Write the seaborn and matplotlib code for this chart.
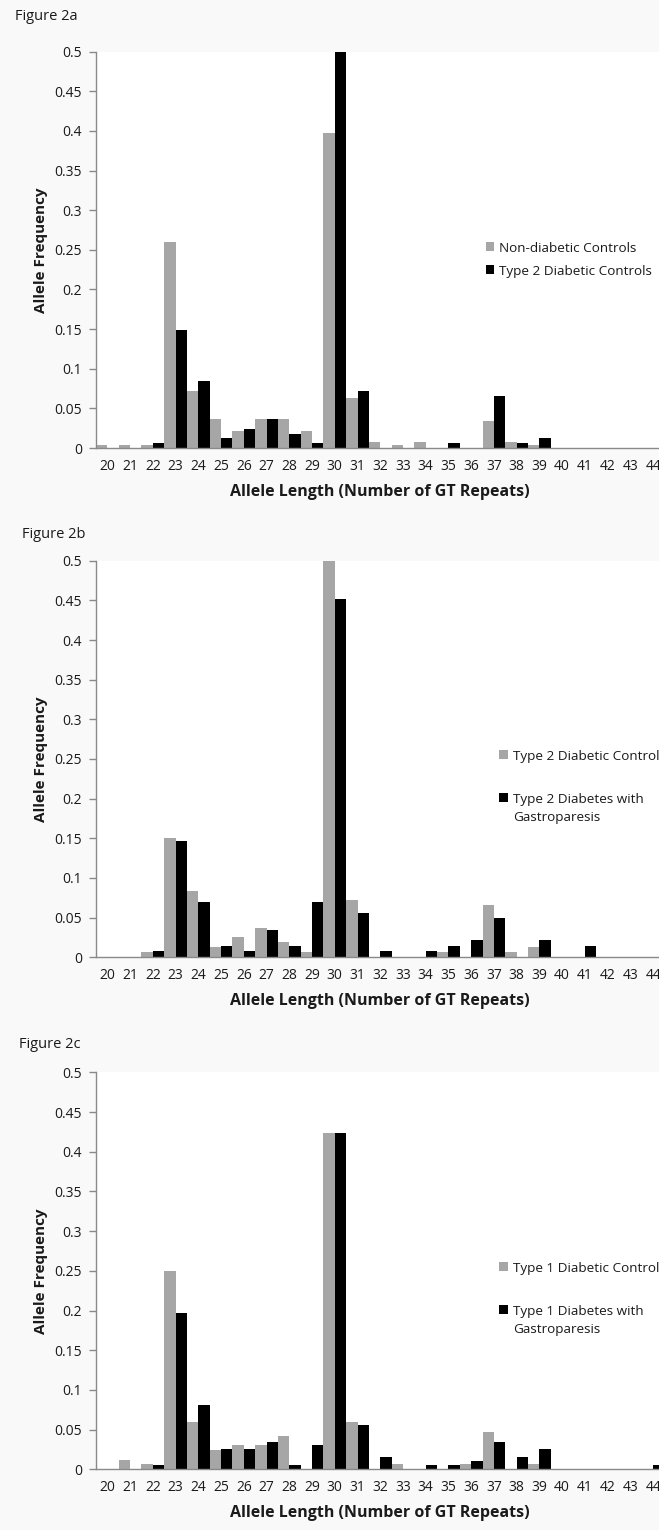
import numpy as np
import pandas as pd
import matplotlib
matplotlib.use("Agg")
import matplotlib.pyplot as plt
from matplotlib.patches import Patch
import seaborn as sns

# ---------------- data ----------------
alleles = [str(a) for a in range(20, 45)]

a_labels = ["Non-diabetic Controls", "Type 2 Diabetic Controls"]
a_nondiabetic = [0.004, 0.004, 0.004, 0.260, 0.0715, 0.0366, 0.021, 0.0366, 0.0366, 0.021,
                 0.398, 0.0626, 0.007, 0.004, 0.007, 0.0, 0.0, 0.0336, 0.007, 0.004,
                 0.0, 0.0, 0.0, 0.0, 0.0]
a_type2_ctrl = [0.0, 0.0, 0.006, 0.149, 0.084, 0.0126, 0.024, 0.0366, 0.018, 0.006,
                0.500, 0.072, 0.0, 0.0, 0.0, 0.006, 0.0, 0.066, 0.006, 0.0126,
                0.0, 0.0, 0.0, 0.0, 0.0]

b_labels = ["Type 2 Diabetic Control", "Type 2 Diabetes with\nGastroparesis"]
b_type2_ctrl = [0.0, 0.0, 0.0067, 0.150, 0.084, 0.013, 0.025, 0.037, 0.019, 0.0067,
                0.500, 0.072, 0.0, 0.0, 0.0, 0.0067, 0.0, 0.066, 0.0067, 0.013,
                0.0, 0.0, 0.0, 0.0, 0.0]
b_type2_gp = [0.0, 0.0, 0.0076, 0.146, 0.070, 0.014, 0.0076, 0.035, 0.014, 0.070,
              0.452, 0.0555, 0.0076, 0.0, 0.0076, 0.014, 0.0214, 0.049, 0.0, 0.0214,
              0.0, 0.014, 0.0, 0.0, 0.0]

c_labels = ["Type 1 Diabetic Control", "Type 1 Diabetes with\nGastroparesis"]
c_type1_ctrl = [0.0, 0.0118, 0.0067, 0.250, 0.0596, 0.024, 0.030, 0.030, 0.042, 0.0,
                0.423, 0.0596, 0.0, 0.0067, 0.0, 0.0, 0.0067, 0.0474, 0.0, 0.0067,
                0.0, 0.0, 0.0, 0.0, 0.0]
c_type1_gp = [0.0, 0.0, 0.005, 0.197, 0.081, 0.025, 0.025, 0.035, 0.005, 0.030,
              0.424, 0.0554, 0.015, 0.0, 0.005, 0.005, 0.010, 0.035, 0.015, 0.025,
              0.0, 0.0, 0.0, 0.0, 0.005]

titles = ["Figure 2a", "Figure 2b", "Figure 2c"]
y_ticks = [0, 0.05, 0.1, 0.15, 0.2, 0.25, 0.3, 0.35, 0.4, 0.45, 0.5]
y_label = "Allele Frequency"
x_label = "Allele Length (Number of GT Repeats)"

# ---------------- style ----------------
sns.set_theme(style="white")
plt.rcParams['font.family'] = ['Open Sans', 'DejaVu Sans']

W, H = 659, 1530
BG = '#f9f9f9'
GRAY = '#a6a6a6'
BLACK = '#000000'
AXC = '#898989'
TXT = '#1a1a1a'
LEG_FS = 9.7

fig = plt.figure(figsize=(W / 100, H / 100), dpi=100, facecolor=BG)

def px_rect(left, top, right, bottom):
    return [left / W, 1 - bottom / H, (right - left) / W, (bottom - top) / H]

panels = [
    dict(title=titles[0], tpos=(15, 17), rect=(96, 51.7, 664.5, 448.0),
         labels=a_labels, s1=a_nondiabetic, s2=a_type2_ctrl, leg=(485.5, 242), lspace=0.75),
    dict(title=titles[1], tpos=(22, 535), rect=(96, 560.7, 664.5, 957.3),
         labels=b_labels, s1=b_type2_ctrl, s2=b_type2_gp, leg=(499, 750), lspace=2.25),
    dict(title=titles[2], tpos=(19, 1044), rect=(96, 1072.3, 664.5, 1469.3),
         labels=c_labels, s1=c_type1_ctrl, s2=c_type1_gp, leg=(499, 1262), lspace=2.25),
]

for p in panels:
    ax = fig.add_axes(px_rect(*p['rect']))
    ax.set_facecolor('white')
    df = pd.DataFrame({
        'allele': alleles * 2,
        'freq': list(p['s1']) + list(p['s2']),
        'group': [p['labels'][0]] * len(alleles) + [p['labels'][1]] * len(alleles),
    })
    sns.barplot(data=df, x='allele', y='freq', hue='group', order=alleles,
                hue_order=p['labels'], palette=[GRAY, BLACK], saturation=1,
                width=1.0, gap=0, dodge=True, linewidth=0, legend=False, ax=ax)
    ax.set_xlim(-0.5, len(alleles) - 0.5)
    ax.set_ylim(0, 0.5)
    ax.set_yticks(y_ticks)
    ax.set_yticklabels([f"{v:g}" for v in y_ticks])
    ax.set_xticks(range(len(alleles)))
    ax.set_xticklabels(alleles)
    ax.set_xticks(np.arange(-0.5, len(alleles), 1.0), minor=True)
    ax.tick_params(axis='x', which='major', length=0, pad=8, labelsize=10, labelcolor=TXT)
    ax.tick_params(axis='x', which='minor', length=5, width=1, color=AXC, direction='out')
    ax.tick_params(axis='y', which='major', length=5, width=1, color=AXC, direction='out',
                   pad=5, labelsize=10, labelcolor=TXT, left=True)
    for side in ['top', 'right']:
        ax.spines[side].set_visible(False)
    for side in ['left', 'bottom']:
        ax.spines[side].set_color(AXC)
        ax.spines[side].set_linewidth(1)
    ax.set_ylabel(y_label, fontsize=11, fontweight='bold', color=TXT, labelpad=5)
    ax.set_xlabel(x_label, fontsize=11.5, fontweight='bold', color=TXT, labelpad=7)
    ax.grid(False)

    fig.text(p['tpos'][0] / W, 1 - p['tpos'][1] / H, p['title'], fontsize=10.5,
             color=TXT, ha='left', va='center')

    handles = [Patch(facecolor=GRAY, edgecolor='none'), Patch(facecolor=BLACK, edgecolor='none')]
    leg = fig.legend(handles, p['labels'], loc='upper left',
                     bbox_to_anchor=(p['leg'][0] / W, 1 - p['leg'][1] / H),
                     frameon=False, fontsize=LEG_FS, handlelength=0.65, handleheight=0.65,
                     handletextpad=0.37, labelspacing=p['lspace'], borderpad=0,
                     borderaxespad=0, labelcolor=TXT)
    for t in leg.get_texts():
        t.set_linespacing(1.5)
    # align the marker with the first line of multi-line labels
    for row in leg._legend_handle_box.get_children():
        for hp in row.get_children():
            hp.align = 'top'

fig.savefig("out.png", dpi=100, facecolor=BG)
